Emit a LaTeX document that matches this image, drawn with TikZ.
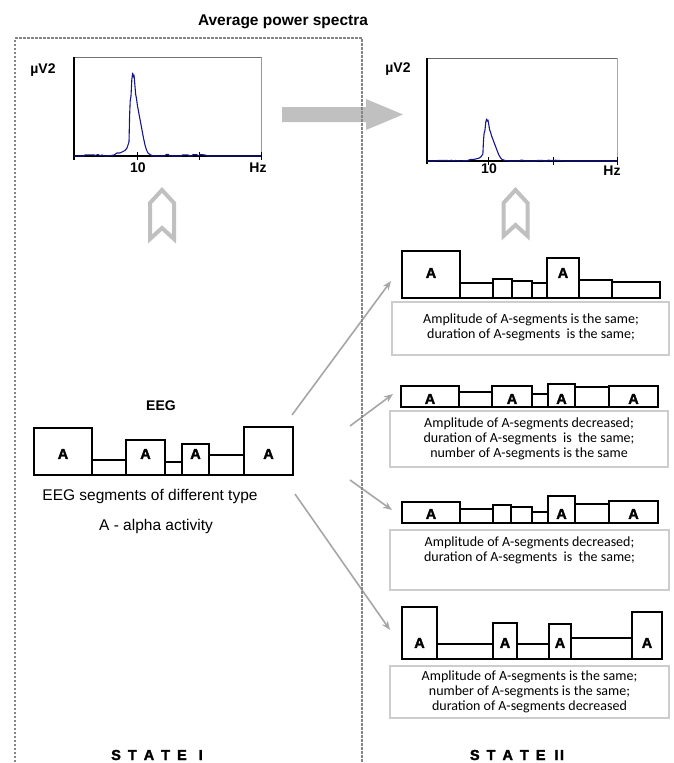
\documentclass[tikz,border=0pt]{standalone}
\usepackage{fontspec}
\setmainfont{Liberation Sans}
\newfontfamily\calibfont{Carlito}
\newfontfamily\heavyfont[BoldFeatures={FakeBold=2}]{Liberation Sans}
\usetikzlibrary{arrows.meta, positioning}
\definecolor{specblue}{HTML}{14148C}
\definecolor{framegray}{HTML}{858585}
\definecolor{arrowgray}{HTML}{C0C0C0}
\definecolor{linkgray}{HTML}{A6A6A6}
\definecolor{boxgray}{HTML}{CDCDCD}

% one averaged spectrum, #1 = origin (left end of the Hz axis), #2 = x scale, #3 = height scale
\newcommand{\spectrum}[3]{%
  \begin{scope}[shift={#1}, xscale=#2, yscale=-#3]
    \draw[specline] plot coordinates {(0,0) (10,0) (11,1.2) (20,1.2) (21,0.5) (24,1.5) (26,0.3)
      (28,1) (31,0) (37,0.5) (40,1) (43,3) (46,3) (48,4) (51,5.5) (53,8) (55,14) (55.6,40)
      (56.2,55) (57,60) (57.8,76) (58.6,83) (59.4,79) (60,81) (60.8,72) (61.6,62) (62.4,58)
      (63.5,50) (65,42) (66.5,34) (68,26) (69.5,18) (71,11) (72.5,6) (74,3) (76,1.5) (78,0.5)
      (80,0) (91,0) (92,1.5) (94.5,1.5) (95.5,0) (108,0) (108.5,1.2) (114,1.2) (115,0) (118,0)
      (119,1.5) (123,1.2) (125,0) (126,1.5) (131,1) (134,0) (187,0)};
  \end{scope}}

\begin{document}
\begin{tikzpicture}[x=1pt, y=-1pt,
   every node/.style={inner sep=0pt},
   titlelbl/.style={font=\fontsize{15.5}{16}\selectfont\bfseries},
   boldlbl/.style={font=\fontsize{14}{14}\selectfont\bfseries},
   plainlbl/.style={font=\fontsize{15.5}{15.5}\selectfont},
   statelbl/.style={font=\heavyfont\fontsize{14.5}{15}\selectfont\bfseries},
   alabel/.style={font=\heavyfont\fontsize{14.5}{14.5}\selectfont\bfseries},
   seg/.style={draw=black, line width=1.2pt},
   specline/.style={specblue, line width=1.1pt, line join=round},
   hollow/.style={draw=arrowgray, line width=4pt, line join=miter},
   link/.style={draw=linkgray, line width=1.6pt, -{Stealth[length=9pt, width=7pt]}},
   infobox/.style={draw=boxgray, line width=1.2pt},
   infotext/.style={font=\calibfont\fontsize{14}{15}\selectfont, align=center}]
\useasboundingbox (0,0) rectangle (674,763);

% Title
\node[titlelbl, anchor=base] (title) at (283,25) {Average power spectra};

% State I -> State II arrow
\fill[arrowgray] (282,107) -- (366,107) -- (366,99) -- (403,114.5) -- (366,130) -- (366,122) -- (282,122) -- cycle;

% Left spectrum
\draw[black!55, line width=0.9pt] (74,57) -- (261,57);
\draw[black!40, line width=0.9pt] (261,57) -- (261,156);
\draw[black, line width=1.1pt] (74,57) -- (74,160);
\draw[black, line width=1.1pt] (74,156) -- (261,156);
\foreach \tx in {137,199,261}
   \draw[black, line width=1pt] (\tx,152) -- (\tx,160);
\spectrum{(74,156)}{1}{1}
\node[boldlbl, anchor=base] (uvl) at (43,73) {µV2};
\node[boldlbl, anchor=base] (tenl) at (138,172) {10};
\node[boldlbl, anchor=base] (hzl) at (258,172) {Hz};

% Right spectrum
\draw[black!60, line width=0.9pt] (427,58) -- (617,58);
\draw[black!35, line width=0.9pt] (617,58) -- (617,161);
\draw[black, line width=1.1pt] (427,58) -- (427,164);
\draw[black, line width=1.1pt] (427,161) -- (617,161);
\foreach \tx in {488,553,617}
   \draw[black, line width=1pt] (\tx,157) -- (\tx,165);
\spectrum{(427,161)}{1.016}{0.506}
\node[boldlbl, anchor=base] (uvr) at (398,72) {µV2};
\node[boldlbl, anchor=base] (tenr) at (489,173) {10};
\node[boldlbl, anchor=base] (hzr) at (612,175) {Hz};

% Hollow up arrows
\draw[hollow] (162,190) -- (174,203) -- (174,239) -- (162,228) -- (150,239) -- (150,203) -- cycle;
\draw[hollow] (515.5,190) -- (527.5,203) -- (527.5,236) -- (515.5,225) -- (503.5,236) -- (503.5,203) -- cycle;

% State I EEG
\node[boldlbl, anchor=base] (eeg) at (161,410) {EEG};
\foreach \xa/\xb/\yt in {34/92/428, 92/126/460, 126/165/440, 165/182/462, 182/209/444, 209/244/455, 244/293/427}
   \draw[seg] (\xa,\yt) rectangle (\xb,475);
\foreach \ax [count=\i] in {63,145.5,195.5,268.5}
   \node[alabel] (eegA\i) at (\ax,454) {A};
\node[plainlbl, anchor=base] (segtype) at (150,500) {EEG segments of different type};
\node[plainlbl, anchor=base] (alpha) at (156,530) {A - alpha activity};

% Row 1: same amplitude, same duration
\foreach \xa/\xb/\yt in {402/460/251, 460/493/283, 493/512/279, 512/532/281, 532/547/283, 547/579/258, 579/612/280, 612/660/282}
   \draw[seg] (\xa,\yt) rectangle (\xb,298);
\foreach \ax [count=\i] in {431,563}
   \node[alabel] (oneA\i) at (\ax,273) {A};
\draw[infobox] (392,302) rectangle (669,355);
\node[infotext] (onetxt) at (531,327) {Amplitude of A-segments is the same;\\duration of A-segments~ is the same;};

% Row 2: amplitude decreased
\foreach \xa/\xb/\yt in {401/459/386, 459/492/392, 492/532/386, 532/548/394, 548/575/384, 575/609/387, 609/658/386}
   \draw[seg] (\xa,\yt) rectangle (\xb,407);
\foreach \ax [count=\i] in {430,512,561.5,633.5}
   \node[alabel] (twoA\i) at (\ax,399) {A};
\draw[infobox] (390,411) rectangle (668,467);
\node[infotext] (twotxt) at (529,438.5) {Amplitude of A-segments decreased;\\duration of A-segments~ is~ the same;\\number of A-segments is the same};

% Row 3: amplitude decreased, fewer A-segments
\foreach \xa/\xb/\yt in {402/460/502, 460/493/509, 493/511/505, 511/532/507, 532/548/512, 548/575/496, 575/609/504, 609/658/501}
   \draw[seg] (\xa,\yt) rectangle (\xb,523);
\foreach \ax [count=\i] in {431,561.5,633.5}
   \node[alabel] (threeA\i) at (\ax,514) {A};
\draw[infobox] (390,530) rectangle (669,590);
\node[infotext] (threetxt) at (529.5,550) {Amplitude of A-segments decreased;\\duration of A-segments~ is~ the same;};

% Row 4: duration decreased
\foreach \xa/\xb/\yt in {402/437/607, 437/493/644, 493/517/623, 517/549/644, 549/571/624, 571/632/638, 632/662/612}
   \draw[seg] (\xa,\yt) rectangle (\xb,659);
\foreach \ax [count=\i] in {419.5,505,560,647}
   \node[alabel] (fourA\i) at (\ax,643) {A};
\draw[infobox] (390,666) rectangle (669,718);
\node[infotext] (fourtxt) at (529.5,692) {Amplitude of A-segments is the same;\\number of A-segments is the same;\\duration of A-segments decreased};

% Links from State I to the State II variants
\coordinate (fromone) at (292,415);
\coordinate (toone) at (391,281);
\coordinate (fromtwo) at (350,426);
\coordinate (totwo) at (393,394);
\coordinate (fromthree) at (350,480);
\coordinate (tothree) at (392,510);
\coordinate (fromfour) at (295,494);
\coordinate (tofour) at (390,630);
\draw[link] (fromone) -- (toone);
\draw[link] (fromtwo) -- (totwo);
\draw[link] (fromthree) -- (tothree);
\draw[link] (fromfour) -- (tofour);

% State I frame
\draw[framegray, line width=2.5pt, dash pattern=on 2.5pt off 1.5pt] (15,770) -- (15,38) -- (362,38) -- (362,770);

% State labels
\node[statelbl, anchor=base] (stateone) at (157,760) {S\hspace{7pt}T\hspace{7pt}A\hspace{7pt}T\hspace{7pt}E\hspace{12pt}I};
\node[statelbl, anchor=base] (statetwo) at (517,760) {S\hspace{7pt}T\hspace{7pt}A\hspace{7pt}T\hspace{7pt}E\hspace{9pt}I\hspace{1.5pt}I};
\end{tikzpicture}
\end{document}
